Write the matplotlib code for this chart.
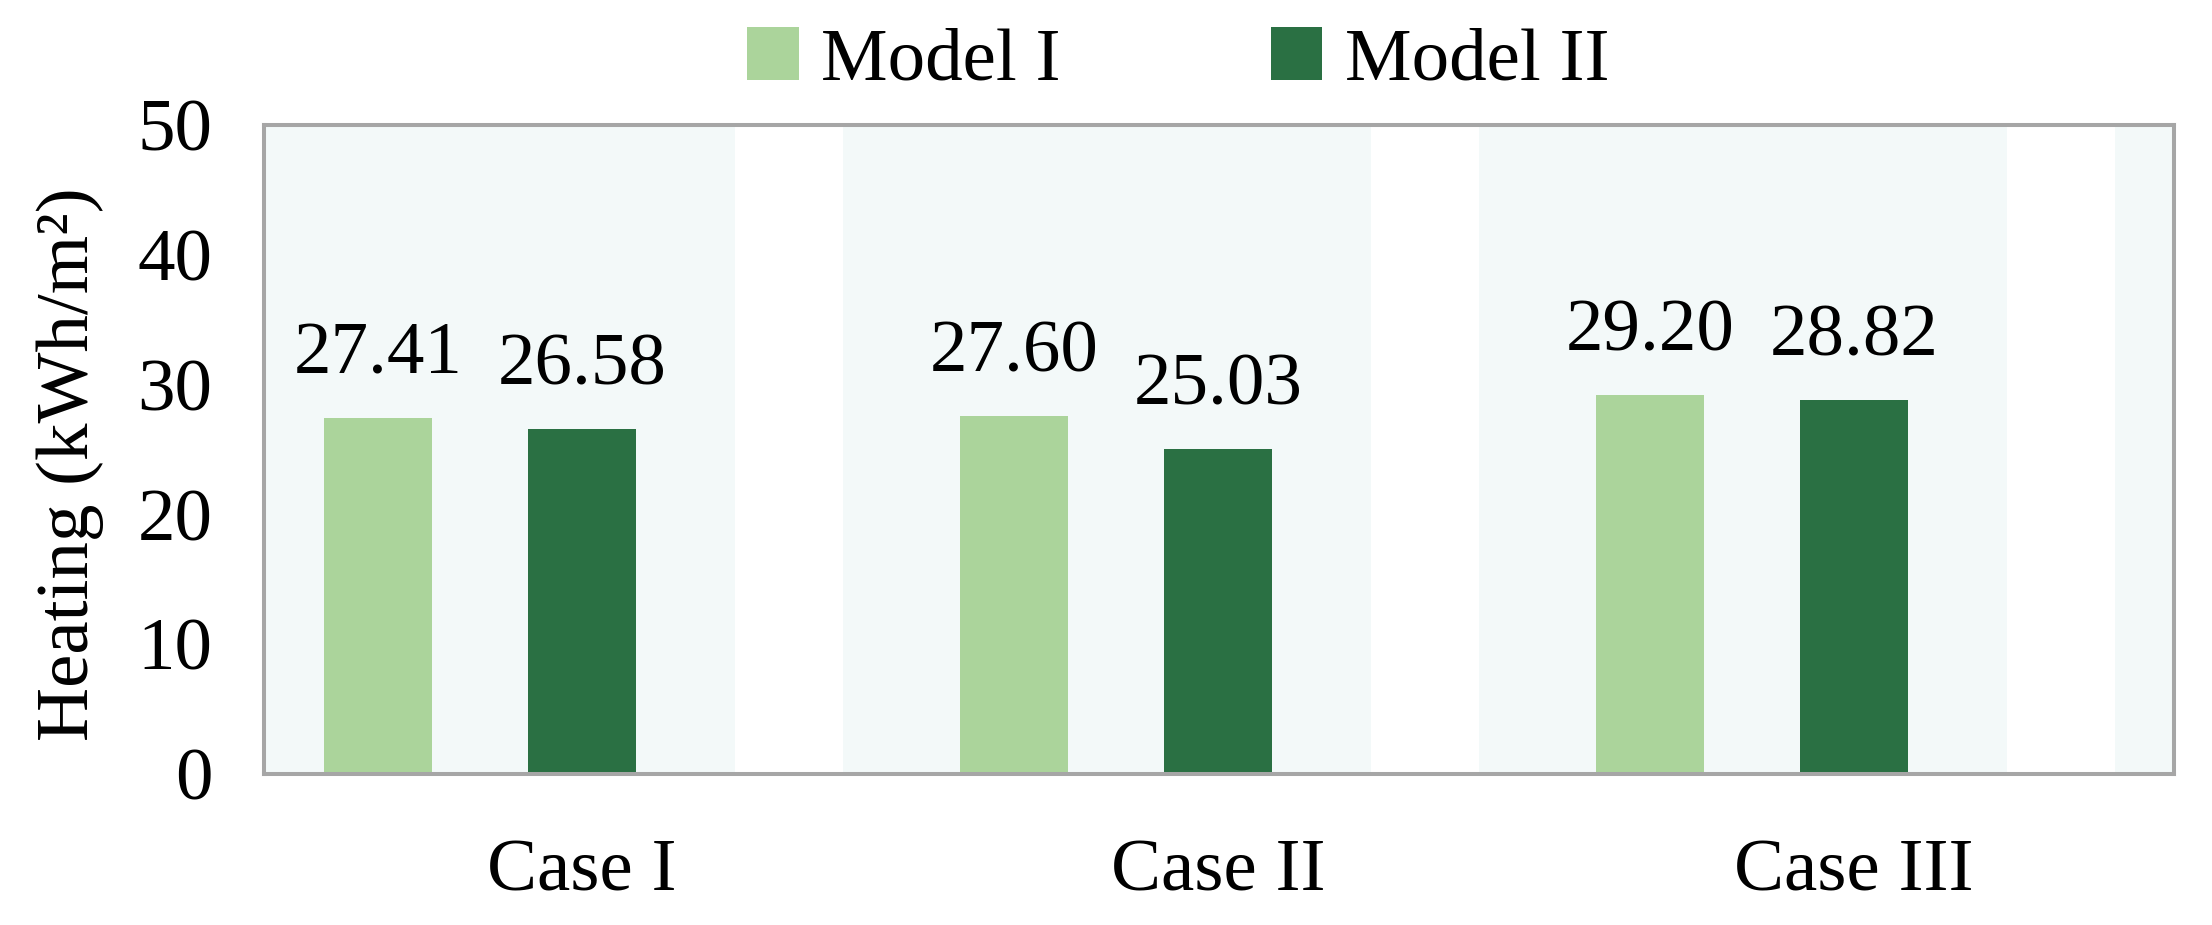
import matplotlib
matplotlib.use("Agg")
import matplotlib.pyplot as plt
from matplotlib.patches import Patch
import numpy as np

categories = ["Case I", "Case II", "Case III"]
series_names = ["Model I", "Model II"]
model1 = [27.41, 27.60, 29.20]
model2 = [26.58, 25.03, 28.82]
yticks = [0, 10, 20, 30, 40, 50]

c1 = "#ABD49B"
c2 = "#2A7043"
band = "#F3F9F9"
frame = "#A6A6A6"
FONT = "Liberation Serif"
FS = 54

plt.rcParams['font.family'] = [FONT, 'DejaVu Serif']

fig = plt.figure(figsize=(22.12, 9.25), dpi=100)
ax = fig.add_axes([264/2212, 1-774/925, (2174-264)/2212, (774-125)/925])

x = np.arange(len(categories))
off = 0.321
w = 0.17

# background bands
for k in range(-1, len(categories)):
    ax.axvspan(k + 0.41, k + 1.24, color=band, zorder=0, lw=0)

b1 = ax.bar(x - off, model1, width=w, color=c1, zorder=2)
b2 = ax.bar(x, model2, width=w, color=c2, zorder=2)

for bars, vals in ((b1, model1), (b2, model2)):
    for r, v in zip(bars, vals):
        ax.annotate(f"{v:.2f}", (r.get_x() + r.get_width()/2, v),
                    xytext=(0, 32), textcoords="offset points",
                    ha="center", va="baseline", fontsize=FS)

ax.set_xlim(-0.5, 2.503)
ax.set_ylim(0, 50)
ax.set_xticks(x)
ax.set_xticklabels(categories, fontsize=FS)
ax.set_yticks(yticks)
ax.set_yticklabels([str(t) for t in yticks], fontsize=FS)
ax.tick_params(axis='x', length=0, pad=47)
ax.tick_params(axis='y', length=0, pad=37)
ax.set_ylabel("Heating (kWh/m²)", fontsize=FS)
ax.yaxis.set_label_coords(-0.0838, 0.478)

for s in ax.spines.values():
    s.set_color(frame)
    s.set_linewidth(2.9)

handles = [Patch(facecolor=c1, edgecolor='none', label=series_names[0]),
           Patch(facecolor=c2, edgecolor='none', label=series_names[1])]
fig.legend(handles=handles, loc='center', bbox_to_anchor=(1178/2212, 1-61/925),
           ncol=2, frameon=False, fontsize=FS, handlelength=0.69, handleheight=0.71,
           handletextpad=0.3, columnspacing=2.8, borderpad=0, borderaxespad=0)

fig.savefig("out.png", dpi=100)
